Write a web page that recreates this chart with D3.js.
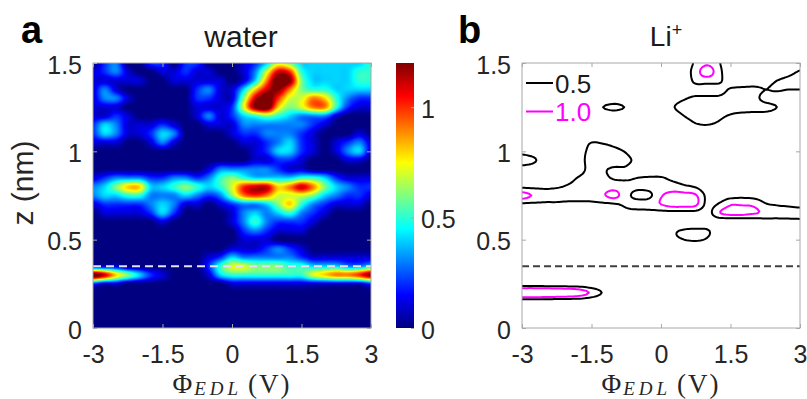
<!DOCTYPE html>
<html>
<head>
<meta charset="utf-8">
<script src="https://cdn.jsdelivr.net/npm/d3@7/dist/d3.min.js"></script>
<style>
  html, body { margin: 0; padding: 0; background: #fff; }
  svg { display: block; font-family: "Liberation Sans", Arial, sans-serif; }
  .tick text { fill: #262626; font-size: 25px; font-family: "Liberation Sans", Arial, sans-serif; }
</style>
</head>
<body>
<svg id="chart" width="807" height="399"></svg>
<script>

// grid of the two maps: columns are Phi_EDL (V), rows are z (nm) from the top
var phiGrid = [-3, -2.75, -2.5, -2.25, -2, -1.75, -1.5, -1.25, -1, -0.75, -0.5, -0.25, 0,
    0.25, 0.5, 0.75, 1, 1.25, 1.5, 1.75, 2, 2.25, 2.5, 2.75, 3];
var zGrid = [1.5, 1.45, 1.4, 1.35, 1.3, 1.25, 1.2, 1.15, 1.1, 1.05, 1, 0.95, 0.9, 0.85, 0.8,
    0.75, 0.7, 0.65, 0.6, 0.55, 0.5, 0.45, 0.4, 0.35, 0.3, 0.25, 0.2, 0.15, 0.1, 0.05, 0];

// water density, one base-36 digit per cell, unit 0.1
var waterRows = [
    '0230022022000124764444445',
    '1231001121100137ba5444455',
    '1111100111110149dc6444455',
    '131000000231148bc96554444',
    '13310000022116bda77985322',
    '11100000011127cd867995211',
    '1121000001312456543331000',
    '2431112100111333333210000',
    '2431124300001223332100010',
    '1110013100000112342101231',
    '0000000000000012442101341',
    '0000000000000011221000110',
    '0000000000133333211000000',
    '1233322332356544445542111',
    '3468844565457abb89b964322',
    '34455333432369a9777643221',
    '1222234311012334685321110',
    '0111124200001343453210000',
    '0000001000001353222100000',
    '0000000000000232111000000',
    '0000000000000111000000000',
    '0000000000001112321000000',
    '0000000000124333332111111',
    '1110000000257766655444334',
    'db864210001455555557899ac',
    '2110000000001111111111112',
    '0000000000000000000000000',
    '0000000000000000000000000',
    '0000000000000000000000000',
    '0000000000000000000000000',
    '0000000000000000000000000'
];

// Li+ density, one base-36 digit per cell, unit 0.05
var liRows = [
    '000000000000003cib2000025',
    '000000000000004fqd300026b',
    '000000000000002dec4456adh',
    '000000000000023556bccabaa',
    '000000002000159cccefd7545',
    '0000002ad92029eggfeeeda31',
    '00000000200004aefc9766400',
    '0000000000000049a84000000',
    '0000000000000002320000000',
    '000004a962000000000000000',
    '630006dfd9300000000000000',
    'gc3006ffec710000000000000',
    '530026eb99400000000000000',
    '22357bec99abb731000000000',
    '8889bdefgdcdefc9201110000',
    'ojffffgjnd78jnnl746764222',
    '888877789cefkoom7bjjib987',
    '22222222266666665jnnligfe',
    '0000000000000022211124567',
    '00000000000008bcb40000000',
    '00000000000007ab930000000',
    '0000000000000022200000000',
    '0000000000000000000000000',
    '0000000000000000000000000',
    '0000000000000000000000000',
    '2222221000000000000000000',
    'zzywuqi920000000000000000',
    '2222221000000000000000000',
    '0000000000000000000000000',
    '0000000000000000000000000',
    '0000000000000000000000000'
];

var phiTicks = [-3, -1.5, 0, 1.5, 3];
var zTicks = [0, 0.5, 1, 1.5];
var colorTicks = [0, 0.5, 1];
var colorMax = 1.2;
var contourLevels = [0.5, 1.0];
var contourColors = ['#000000', '#ff00ff'];
var dashZ = 0.35;

var svg = d3.select('#chart');
var defs = svg.append('defs');

function decode(rows, unit) {
    return rows.map(function (r) {
        return Array.from(r.slice(0, phiGrid.length), function (c) { return parseInt(c, 36) * unit; });
    });
}

var water = decode(waterRows, 0.1);
var li = decode(liRows, 0.05);

// phi / z -> fractional grid index
var col = d3.scaleLinear().domain([phiGrid[0], phiGrid[phiGrid.length - 1]]).range([0, phiGrid.length - 1]);
var row = d3.scaleLinear().domain([zGrid[0], zGrid[zGrid.length - 1]]).range([0, zGrid.length - 1]);

function bicubic(grid) {
    var ny = grid.length, nx = grid[0].length;

    function at(i, j) {
        i = Math.max(0, Math.min(ny - 1, i));
        j = Math.max(0, Math.min(nx - 1, j));
        return grid[i][j];
    }
    function cr(p0, p1, p2, p3, t) {
        return p1 + 0.5 * t * (p2 - p0 + t * (2 * p0 - 5 * p1 + 4 * p2 - p3 + t * (3 * (p1 - p2) + p3 - p0)));
    }
    return function (gx, gy) {
        var j = Math.floor(gx), i = Math.floor(gy);
        var tx = gx - j, ty = gy - i;
        var r = [];

        for (var k = -1; k <= 2; k++)
            r.push(cr(at(i + k, j - 1), at(i + k, j), at(i + k, j + 1), at(i + k, j + 2), tx));
        return cr(r[0], r[1], r[2], r[3], ty);
    };
}

function jet(t) {
    t = Math.max(0, Math.min(1, t));
    var f = function (v) { return Math.round(255 * Math.max(0, Math.min(1, v))); };

    return [f(1.5 - Math.abs(4 * t - 3)), f(1.5 - Math.abs(4 * t - 2)), f(1.5 - Math.abs(4 * t - 1))];
}

var xA = d3.scaleLinear().domain(d3.extent(phiTicks)).range([93, 371]);
var xB = d3.scaleLinear().domain(d3.extent(phiTicks)).range([522, 800]);
var y = d3.scaleLinear().domain(d3.extent(zTicks)).range([328, 63]);
var yC = d3.scaleLinear().domain([0, colorMax]).range([328, 63]);

var gA = svg.append('g');
var gB = svg.append('g');

// ---- panel a: heat map ----
(function () {
    var sample = bicubic(water);
    var x0 = xA.range()[0], y0 = y.range()[1];
    var w = xA.range()[1] - x0, h = y.range()[0] - y0;
    var canvas = document.createElement('canvas');

    canvas.width = w;
    canvas.height = h;
    var ctx = canvas.getContext('2d');
    var img = ctx.createImageData(w, h);

    for (var py = 0; py < h; py++) {
        var z = y.invert(y0 + py + 0.5);

        for (var px = 0; px < w; px++) {
            var phi = xA.invert(x0 + px + 0.5);
            var c = jet(sample(col(phi), row(z)) / colorMax);
            var k = 4 * (py * w + px);

            img.data[k] = c[0];
            img.data[k + 1] = c[1];
            img.data[k + 2] = c[2];
            img.data[k + 3] = 255;
        }
    }
    ctx.putImageData(img, 0, 0);

    gA.append('image')
        .attr('x', x0).attr('y', y0)
        .attr('width', w).attr('height', h)
        .attr('preserveAspectRatio', 'none')
        .attr('href', canvas.toDataURL());
})();

gA.append('line')
    .attr('x1', xA.range()[0]).attr('x2', xA.range()[1])
    .attr('y1', y(dashZ)).attr('y2', y(dashZ))
    .attr('stroke', '#e2e2f2')
    .attr('stroke-width', 2)
    .attr('stroke-dasharray', '8,5');

// ---- panel b: contour lines ----
defs.append('clipPath').attr('id', 'clipB')
    .append('rect')
    .attr('x', xB.range()[0]).attr('y', y.range()[1])
    .attr('width', xB.range()[1] - xB.range()[0])
    .attr('height', y.range()[0] - y.range()[1]);

(function () {
    var sample = bicubic(li);
    var k = 5, pad = 2;
    var nu = (phiGrid.length - 1) * k + 1 + 2 * pad;
    var nv = (zGrid.length - 1) * k + 1 + 2 * pad;
    var values = new Array(nu * nv);

    for (var v = 0; v < nv; v++)
        for (var u = 0; u < nu; u++)
            values[v * nu + u] = sample((u - pad) / k, (v - pad) / k);

    var contours = d3.contours().size([nu, nv]).thresholds(contourLevels)(values);

    var path = d3.geoPath(d3.geoTransform({
        point: function (gx, gy) {
            this.stream.point(xB(col.invert((gx - 0.5 - pad) / k)), y(row.invert((gy - 0.5 - pad) / k)));
        }
    }));

    gB.append('g')
        .attr('clip-path', 'url(#clipB)')
        .selectAll('path')
        .data(contours)
        .join('path')
        .attr('d', path)
        .attr('fill', 'none')
        .attr('stroke', function (d, i) { return contourColors[i]; })
        .attr('stroke-width', 2)
        .attr('stroke-linejoin', 'round');
})();

gB.append('line')
    .attr('x1', xB.range()[0]).attr('x2', xB.range()[1])
    .attr('y1', y(dashZ)).attr('y2', y(dashZ))
    .attr('stroke', '#404040')
    .attr('stroke-width', 2)
    .attr('stroke-dasharray', '7,4');

// legend
var legend = gB.append('g');

contourLevels.forEach(function (lv, i) {
    var ly = 83 + i * 28.5;

    legend.append('line')
        .attr('x1', 526).attr('x2', 553)
        .attr('y1', ly).attr('y2', ly)
        .attr('stroke', contourColors[i])
        .attr('stroke-width', 2);
    legend.append('text')
        .attr('x', 555).attr('y', ly + 9.5)
        .attr('font-size', 26)
        .attr('fill', i === 0 ? '#1a1a1a' : contourColors[i])
        .text(d3.format('.1f')(lv));
});

// ---- axes ----
function drawAxes(g, x) {
    var x0 = x.range()[0], x1 = x.range()[1], y0 = y.range()[1], y1 = y.range()[0];
    var none = function () { return ''; };

    g.append('g').attr('transform', 'translate(0,' + y1 + ')')
        .call(d3.axisBottom(x).tickValues(phiTicks).tickFormat(String)
            .tickSizeInner(-4).tickSizeOuter(0).tickPadding(17));
    g.append('g').attr('transform', 'translate(0,' + y0 + ')')
        .call(d3.axisTop(x).tickValues(phiTicks).tickFormat(none).tickSizeInner(-4).tickSizeOuter(0));
    g.append('g').attr('class', 'yaxis').attr('transform', 'translate(' + x0 + ',0)')
        .call(d3.axisLeft(y).tickValues(zTicks).tickFormat(String)
            .tickSizeInner(-4).tickSizeOuter(0).tickPadding(11));
    g.append('g').attr('transform', 'translate(' + x1 + ',0)')
        .call(d3.axisRight(y).tickValues(zTicks).tickFormat(none).tickSizeInner(-4).tickSizeOuter(0));

    g.selectAll('.domain').remove();
    g.selectAll('.tick line').attr('stroke', '#a8a8a8');
    g.selectAll('.yaxis text').attr('dy', '0.4em');

    g.append('rect')
        .attr('x', x0).attr('y', y0)
        .attr('width', x1 - x0).attr('height', y1 - y0)
        .attr('fill', 'none')
        .attr('stroke', '#a8a8a8')
        .attr('stroke-width', 1);
}

drawAxes(gA, xA);
drawAxes(gB, xB);

// ---- colour bar ----
var grad = defs.append('linearGradient')
    .attr('id', 'jetGrad')
    .attr('x1', 0).attr('y1', 1).attr('x2', 0).attr('y2', 0);

grad.selectAll('stop')
    .data(d3.range(0, 1.0001, 0.025))
    .join('stop')
    .attr('offset', function (d) { return d; })
    .attr('stop-color', function (d) { return d3.rgb.apply(null, jet(d)).toString(); });

var cb = svg.append('g');

cb.append('rect')
    .attr('x', 396).attr('y', yC.range()[1])
    .attr('width', 18).attr('height', yC.range()[0] - yC.range()[1])
    .attr('fill', 'url(#jetGrad)');

cb.append('g').attr('transform', 'translate(414,0)')
    .call(d3.axisRight(yC).tickValues(colorTicks).tickFormat(String)
        .tickSizeInner(-3).tickSizeOuter(0).tickPadding(7));
cb.selectAll('.domain').remove();
cb.selectAll('.tick line').attr('stroke', '#a8a8a8');
cb.selectAll('.tick text').attr('dy', '0.4em');

// ---- titles and labels ----
function panelLetter(x, s) {
    svg.append('text')
        .attr('x', x).attr('y', 43)
        .attr('font-size', 38)
        .attr('font-weight', 'bold')
        .attr('fill', '#000')
        .text(s);
}
panelLetter(21, 'a');
panelLetter(458, 'b');

svg.append('text')
    .attr('x', (xA.range()[0] + xA.range()[1]) / 2 + 9).attr('y', 47)
    .attr('text-anchor', 'middle')
    .attr('font-size', 30)
    .attr('fill', '#1a1a1a')
    .text('water');

var liTitle = svg.append('text')
    .attr('x', (xB.range()[0] + xB.range()[1]) / 2 + 5).attr('y', 46)
    .attr('text-anchor', 'middle')
    .attr('font-size', 28)
    .attr('fill', '#1a1a1a');

liTitle.append('tspan').text('Li');
liTitle.append('tspan').attr('font-size', 18).attr('dy', -10).text('+');

svg.append('text')
    .attr('transform', 'translate(33,' + 183 + ') rotate(-90)')
    .attr('text-anchor', 'middle')
    .attr('font-size', 30)
    .attr('fill', '#262626')
    .text('z (nm)');

function xLabel(cx) {
    var t = svg.append('text')
        .attr('x', cx).attr('y', 392.5)
        .attr('text-anchor', 'middle')
        .attr('font-family', '"Liberation Serif", "DejaVu Serif", serif')
        .attr('font-size', 27)
        .attr('fill', '#262626');

    t.append('tspan').attr('letter-spacing', 2).text('\u03A6');
    t.append('tspan')
        .attr('font-style', 'italic')
        .attr('font-size', 19)
        .attr('letter-spacing', 4)
        .attr('dy', 2)
        .text('EDL');
    t.append('tspan').attr('dy', -2).attr('dx', 6).attr('letter-spacing', 2).text('(V)');
}
xLabel((xA.range()[0] + xA.range()[1]) / 2);
xLabel((xB.range()[0] + xB.range()[1]) / 2);

</script>
</body>
</html>
